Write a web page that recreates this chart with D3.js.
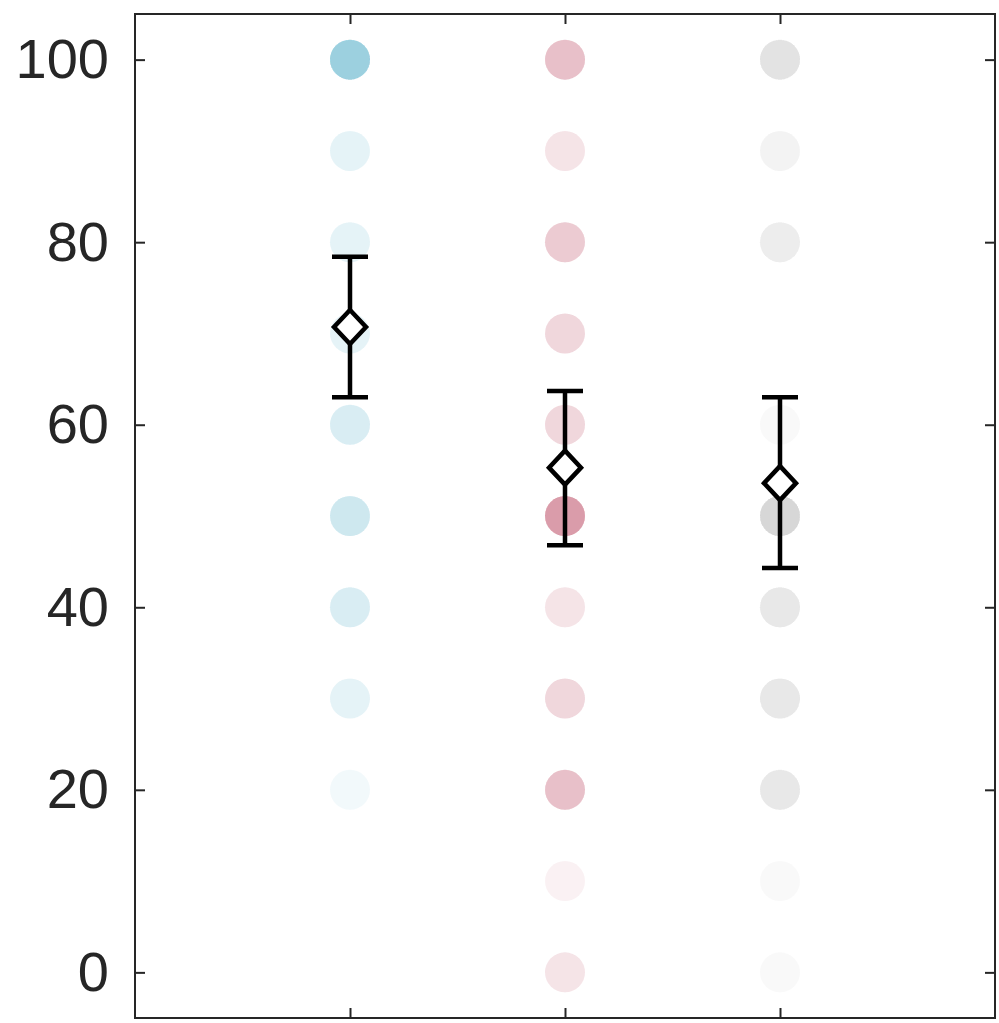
<!DOCTYPE html>
<html>
<head>
<meta charset="utf-8">
<script src="https://cdn.jsdelivr.net/npm/d3@7"></script>
<style>
  html, body { margin: 0; padding: 0; background: #fff; }
  svg { display: block; }
</style>
</head>
<body>
<svg id="chart" width="999" height="1023"></svg>
<script>
// ---- Data ----
const categories = [1, 2, 3];
const scoreLevels = [0, 10, 20, 30, 40, 50, 60, 70, 80, 90, 100];
// number of observations at each score level (overlapping translucent dots)
const countsGroup1 = [0, 0, 1, 2, 3, 4, 3, 2, 2, 2, 10];
const countsGroup2 = [2, 1, 5, 3, 2, 9, 3, 3, 4, 2, 5];
const countsGroup3 = [1, 1, 4, 4, 4, 8, 1, 0, 3, 2, 5];
const means   = [70.7, 55.3, 53.6];
const errLow  = [63.0, 46.8, 44.3];
const errHigh = [78.4, 63.7, 63.0];
const yTicks = [0, 20, 40, 60, 80, 100];
const groupColors = ["rgb(64,176,200)", "rgb(184,57,84)", "rgb(175,175,175)"];

// ---- Layout ----
const svg = d3.select("#chart");
const mLeft = 135, mRight = 995, mTop = 14, mBottom = 1018;
const x = d3.scaleLinear().domain([0, 4]).range([mLeft, mRight]);
const y = d3.scaleLinear().domain([-5, 105]).range([mBottom, mTop]);
const axisColor = "#262626";
const dotAlpha = 0.07;
const dotR = 20;

// ---- Dots ----
const groups = [countsGroup1, countsGroup2, countsGroup3];
const dots = [];
groups.forEach((counts, gi) => {
  counts.forEach((c, li) => {
    for (let k = 0; k < c; k++) dots.push({ g: gi, v: scoreLevels[li] });
  });
});
svg.append("g").selectAll("circle").data(dots).join("circle")
  .attr("cx", d => x(categories[d.g]))
  .attr("cy", d => y(d.v))
  .attr("r", dotR)
  .attr("fill", d => groupColors[d.g])
  .attr("fill-opacity", dotAlpha);

// ---- Error bars ----
const capW = 18;
const eb = svg.append("g").attr("stroke", "#000").attr("stroke-width", 4.5).attr("fill", "none");
categories.forEach((c, i) => {
  eb.append("line").attr("x1", x(c)).attr("x2", x(c)).attr("y1", y(errLow[i])).attr("y2", y(errHigh[i]));
  eb.append("line").attr("x1", x(c) - capW).attr("x2", x(c) + capW).attr("y1", y(errLow[i])).attr("y2", y(errLow[i]));
  eb.append("line").attr("x1", x(c) - capW).attr("x2", x(c) + capW).attr("y1", y(errHigh[i])).attr("y2", y(errHigh[i]));
});

// ---- Mean diamonds ----
const dHalfW = 16, dHalfH = 17;
svg.append("g").selectAll("path").data(categories).join("path")
  .attr("d", (c, i) => {
    const cx = x(c), cy = y(means[i]);
    return `M${cx},${cy - dHalfH}L${cx + dHalfW},${cy}L${cx},${cy + dHalfH}L${cx - dHalfW},${cy}Z`;
  })
  .attr("fill", "#fff")
  .attr("stroke", "#000")
  .attr("stroke-width", 4.5)
  .attr("stroke-linejoin", "miter");

// ---- Axes ----
const tickLen = 10;
const axL = svg.append("g").attr("transform", `translate(${mLeft},0)`)
  .call(d3.axisLeft(y).tickValues(yTicks).tickSize(-tickLen).tickPadding(26).tickFormat(d3.format("d")));
const axR = svg.append("g").attr("transform", `translate(${mRight},0)`)
  .call(d3.axisRight(y).tickValues(yTicks).tickSize(-tickLen).tickFormat(""));
const axB = svg.append("g").attr("transform", `translate(0,${mBottom})`)
  .call(d3.axisBottom(x).tickValues(categories).tickSize(-tickLen).tickFormat(""));
const axT = svg.append("g").attr("transform", `translate(0,${mTop})`)
  .call(d3.axisTop(x).tickValues(categories).tickSize(-tickLen).tickFormat(""));
[axL, axR, axB, axT].forEach(a => {
  a.select(".domain").remove();
  a.selectAll(".tick line").attr("stroke", axisColor).attr("stroke-width", 2);
});
axL.selectAll(".tick text")
  .attr("fill", axisColor)
  .style("font-family", "'Liberation Sans', Arial, sans-serif")
  .style("font-size", "56px");

svg.append("rect")
  .attr("x", mLeft).attr("y", mTop)
  .attr("width", mRight - mLeft).attr("height", mBottom - mTop)
  .attr("fill", "none").attr("stroke", axisColor).attr("stroke-width", 2);
</script>
</body>
</html>
